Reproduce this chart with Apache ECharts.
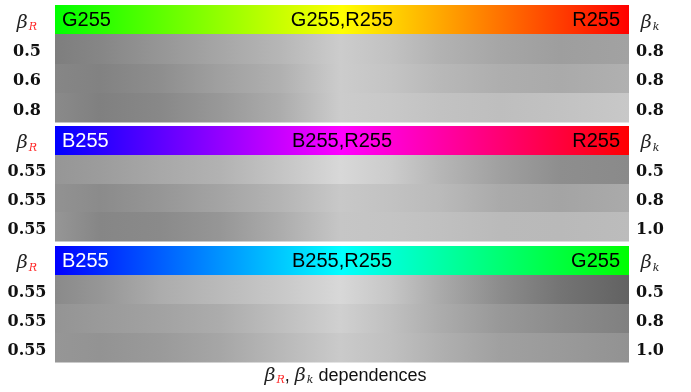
<!DOCTYPE html>
<html>
<head>
<meta charset="utf-8">
<script src="https://cdn.jsdelivr.net/npm/echarts@6/dist/echarts.min.js"></script>
<style>
  html, body { margin: 0; background: #fff; }
  #chart { width: 691px; height: 392px; }
</style>
</head>
<body>
<div id="chart"></div>
<script>
// where each grey reading was taken, as a fraction of the bar width
const stopPos = [0, 0.078, 0.183, 0.287, 0.392, 0.497, 0.584, 0.671, 0.775, 0.88, 1]

// grey level (0-255) of each row at stopPos, one block per panel
const grayPanel1 = [
  [126, 134, 150, 166, 182, 204, 194, 178, 166, 158, 162],
  [134, 130, 142, 160, 176, 204, 196, 184, 174, 170, 176],
  [138, 128, 136, 152, 172, 204, 200, 194, 190, 194, 200]
]
const grayPanel2 = [
  [150, 156, 168, 178, 196, 216, 204, 182, 160, 142, 138],
  [146, 139, 150, 164, 180, 200, 194, 186, 170, 164, 170],
  [150, 134, 138, 150, 172, 198, 196, 192, 186, 185, 188]
]
const grayPanel3 = [
  [138, 150, 172, 186, 200, 216, 198, 170, 140, 116, 98],
  [148, 154, 162, 172, 190, 208, 192, 172, 152, 140, 128],
  [150, 147, 154, 166, 184, 202, 192, 176, 160, 154, 146]
]

const betaR = [["0.5", "0.6", "0.8"], ["0.55", "0.55", "0.55"], ["0.55", "0.55", "0.55"]]
const betaK = [["0.8", "0.8", "0.8"], ["0.5", "0.8", "1.0"], ["0.5", "0.8", "1.0"]]

// colour bar: left, middle, right
const barColors = [
  ["#00ff00", "#ffff00", "#ff0000"],
  ["#0000ff", "#ff00ff", "#ff0000"],
  ["#0000ff", "#00ffff", "#00ff00"]
]
const barLabels = [
  ["G255", "G255,R255", "R255"],
  ["B255", "B255,R255", "R255"],
  ["B255", "B255,R255", "G255"]
]

const grays = [grayPanel1, grayPanel2, grayPanel3]
const leftInk = ["#000", "#fff", "#fff"]

const grids = [
  { left: 55, width: 574, top: 5, height: 117 },
  { left: 55, width: 574, top: 126, height: 115 },
  { left: 55, width: 574, top: 246, height: 116 }
]

const mathFont = "DejaVu Serif"
const sym = { fontFamily: mathFont, fontStyle: "italic", fontWeight: "normal", fontSize: 19, color: "#222" }
const sub = { fontFamily: mathFont, fontStyle: "italic", fontWeight: "normal", fontSize: 11, padding: [9, 0, 0, 1] }

// axis labels sit a little below the row centre in the reference
const axisRich = {
  b: { ...sym, padding: [6, 0, 0, 0] },
  r: { ...sub, color: "#ff2a2a", padding: [15, 0, 0, 1] },
  k: { ...sub, color: "#222", padding: [15, 0, 0, 1] },
  v: { fontFamily: mathFont, fontWeight: "bold", fontSize: 16, color: "#111", padding: [6, 0, 0, 0] }
}

const renderPanel = (p) => (params, api) => {
  const row = api.value(1)
  const c = api.coord([0, row])
  const s = api.size([1, 1])
  const x = c[0]
  const y = Math.round(c[1] - s[1] / 2)
  const w = s[0]
  const h = Math.round(c[1] + s[1] / 2) - y
  let stops
  if (row === 0) {
    stops = barColors[p].map((col, i) => ({ offset: i / 2, color: col }))
  } else {
    stops = grays[p][row - 1].map((g, i) => ({ offset: stopPos[i], color: `rgb(${g},${g},${g})` }))
  }
  const children = [{
    type: "rect",
    shape: { x, y, width: w, height: h + 0.5 },
    style: { fill: new echarts.graphic.LinearGradient(0, 0, 1, 0, stops) }
  }]
  if (row === 0) {
    const txt = (tx, text, align, fill) => ({
      type: "text",
      style: {
        x: tx, y: y + h / 2 + 1, text, fill, align, verticalAlign: "middle",
        fontFamily: "Liberation Sans", fontSize: 20
      }
    })
    children.push(txt(x + 7, barLabels[p][0], "left", leftInk[p]))
    children.push(txt(x + w / 2, barLabels[p][1], "center", "#000"))
    children.push(txt(x + w - 9, barLabels[p][2], "right", "#000"))
  }
  return { type: "group", children }
}

const chart = echarts.init(document.getElementById("chart"), null, { renderer: "canvas" })

const xAxis = grids.map((g, i) => ({
  type: "value", gridIndex: i, min: 0, max: 1, show: false
}))

const yAxis = []
grids.forEach((g, i) => {
  yAxis.push({
    type: "category", gridIndex: i, inverse: true, position: "left",
    data: ["βR", ...betaR[i]],
    axisLine: { show: false }, axisTick: { show: false }, splitLine: { show: false },
    axisLabel: {
      align: "center", margin: 28, rich: axisRich,
      formatter: (v, idx) => idx === 0 ? "{b|β}{r|R}" : `{v|${v}}`
    }
  })
  yAxis.push({
    type: "category", gridIndex: i, inverse: true, position: "right",
    data: ["βk", ...betaK[i]],
    axisLine: { show: false }, axisTick: { show: false }, splitLine: { show: false },
    axisLabel: {
      align: "center", margin: 21, rich: axisRich,
      formatter: (v, idx) => idx === 0 ? "{b|β}{k|k}" : `{v|${v}}`
    }
  })
})

const series = grids.map((g, i) => ({
  type: "custom",
  xAxisIndex: i,
  yAxisIndex: i * 2,
  renderItem: renderPanel(i),
  data: [[0, 0], [0, 1], [0, 2], [0, 3]],
  silent: true,
  animation: false
}))

chart.setOption({
  backgroundColor: "#fff",
  animation: false,
  title: {
    left: "center",
    top: 361,
    text: "{b|β}{r|R}{t|, }{b|β}{k|k}{t| dependences}",
    textStyle: {
      fontWeight: "normal",
      rich: {
        b: sym,
        r: { ...sub, color: "#ff2a2a" },
        k: { ...sub, color: "#222" },
        t: { fontFamily: "Liberation Sans", fontWeight: "normal", fontSize: 18, color: "#111" }
      }
    }
  },
  grid: grids,
  xAxis,
  yAxis,
  series
})
</script>
</body>
</html>
